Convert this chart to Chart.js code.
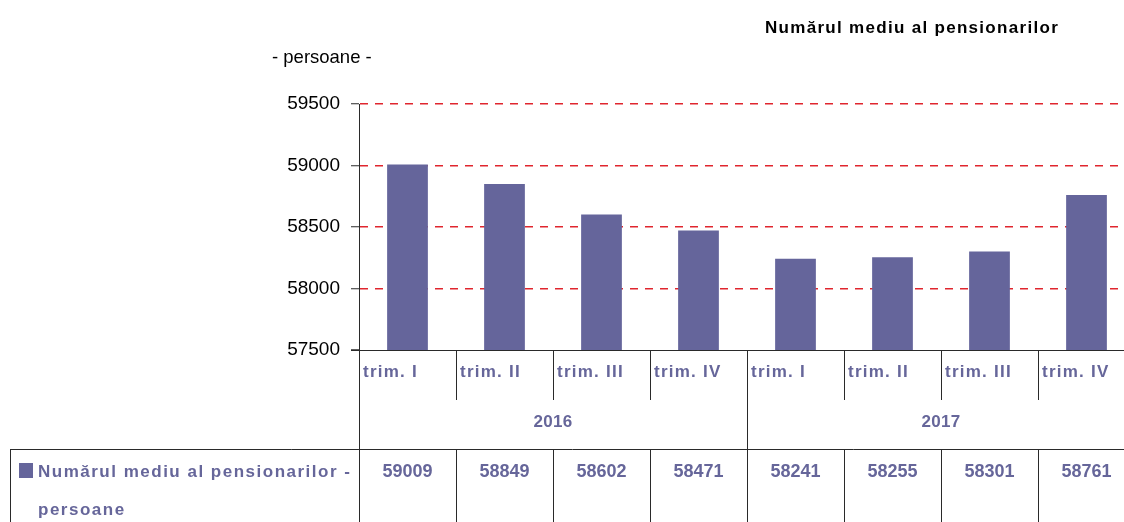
<!DOCTYPE html>
<html>
<head>
<meta charset="utf-8">
<script src="https://cdn.jsdelivr.net/npm/chart.js@4"></script>
<style>
  html, body { margin: 0; padding: 0; background: #fff; overflow: hidden; }
  #wrap { width: 1124px; height: 522px; overflow: hidden; }
</style>
</head>
<body>
<div id="wrap"><canvas id="grafic" width="1135" height="522"></canvas></div>
<script>
const trimestre = ["trim. I", "trim. II", "trim. III", "trim. IV", "trim. I", "trim. II", "trim. III", "trim. IV"];
const ani = ["2016", "2017"];
const pensionari = [59009, 58849, 58602, 58471, 58241, 58255, 58301, 58761];
const titlu = "Numărul mediu al pensionarilor";
const unitate = "- persoane -";
const legenda = ["Numărul mediu al pensionarilor -", "persoane"];

const violet = "#65659b";
const textViolet = "#66669a";
const linie = "#2a2a2a";
const familie = "'Liberation Sans', Arial, sans-serif";

const tabel = {
  id: "tabel",
  afterDraw(chart) {
    const { ctx, chartArea: a, scales: { x } } = chart;
    const n = trimestre.length;
    const granite = [a.left];
    for (let i = 1; i < n; i++) granite.push((x.getPixelForValue(i - 1) + x.getPixelForValue(i)) / 2);
    granite.push(a.right);
    const jos = chart.height;
    const yCat = 400, yTabel = 449;

    ctx.save();
    ctx.strokeStyle = linie;
    ctx.lineWidth = 1;
    ctx.beginPath();
    // axa x
    ctx.moveTo(a.left - 8, a.bottom + 0.5); ctx.lineTo(a.right, a.bottom + 0.5);
    // axa y prelungita
    ctx.moveTo(a.left + 0.5, a.bottom); ctx.lineTo(a.left + 0.5, jos);
    // separatoare trimestre / ani
    for (let i = 1; i < n; i++) {
      const gx = Math.round(granite[i]) + 0.5;
      if (i === n / 2) { ctx.moveTo(gx, a.bottom); ctx.lineTo(gx, jos); }
      else { ctx.moveTo(gx, a.bottom); ctx.lineTo(gx, yCat); ctx.moveTo(gx, yTabel); ctx.lineTo(gx, jos); }
    }
    // tabel
    ctx.moveTo(10, yTabel + 0.5); ctx.lineTo(a.right, yTabel + 0.5);
    ctx.moveTo(10.5, yTabel); ctx.lineTo(10.5, jos);
    ctx.stroke();

    ctx.fillStyle = textViolet;
    ctx.font = "bold 17px " + familie;
    ctx.letterSpacing = "1.25px";
    ctx.textBaseline = "middle";
    ctx.textAlign = "left";
    trimestre.forEach((t, i) => ctx.fillText(t, granite[i] + 4, 372));
    ctx.textAlign = "center";
    ctx.letterSpacing = "0.3px";
    ani.forEach((an, k) => {
      const c = (granite[k * 4] + granite[k * 4 + 4]) / 2;
      ctx.fillText(an, c, 422);
    });
    ctx.font = "bold 18px " + familie;
    ctx.letterSpacing = "0px";
    pensionari.forEach((v, i) => ctx.fillText(String(v), (granite[i] + granite[i + 1]) / 2, 472));

    // legenda
    ctx.fillStyle = violet;
    ctx.fillRect(19, 463, 14, 15);
    ctx.fillStyle = textViolet;
    ctx.textAlign = "left";
    ctx.font = "bold 17px " + familie;
    ctx.letterSpacing = "1.5px";
    ctx.fillText(legenda[0], 38, 472);
    ctx.fillText(legenda[1], 38, 510);

    // titlu si unitate
    ctx.fillStyle = "#000";
    ctx.font = "bold 17px " + familie;
    ctx.letterSpacing = "1.3px";
    ctx.fillText(titlu, 765, 28);
    ctx.font = "18.5px " + familie;
    ctx.letterSpacing = "0px";
    ctx.fillText(unitate, 272, 58);
    ctx.restore();
  }
};

new Chart(document.getElementById("grafic"), {
  type: "bar",
  data: {
    labels: trimestre,
    datasets: [{
      label: legenda.join(" "),
      data: pensionari,
      backgroundColor: violet,
      categoryPercentage: 1,
      barPercentage: 0.42
    }]
  },
  options: {
    responsive: false,
    animation: false,
    layout: { padding: { top: 104, bottom: 172, left: 0, right: 0 } },
    plugins: { legend: { display: false }, tooltip: { enabled: false } },
    scales: {
      x: { display: false },
      y: {
        min: 57500,
        max: 59500,
        afterFit(s) { s.width = 359; },
        ticks: {
          stepSize: 500,
          padding: 11,
          color: "#000",
          callback: v => String(v),
          font: { family: familie, size: 19 }
        },
        grid: {
          color: c => (c.tick && c.tick.value === 57500) ? "rgba(255,255,255,0)" : "#e0262e",
          lineWidth: 1.5,
          tickLength: 8,
          tickColor: linie,
          tickWidth: 1,
          tickBorderDash: []
        },
        border: { display: true, color: linie, width: 1, dash: [8, 7] }
      }
    }
  },
  plugins: [tabel]
});
</script>
</body>
</html>
